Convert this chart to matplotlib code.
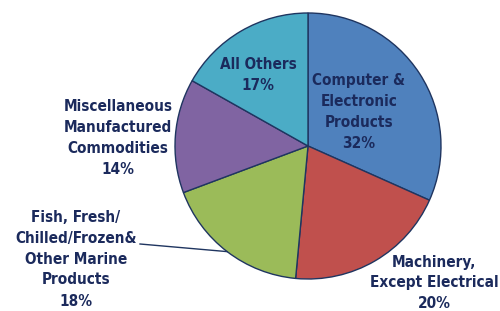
import matplotlib
matplotlib.use("Agg")
import matplotlib.pyplot as plt
import numpy as np

categories = ["Computer &\nElectronic\nProducts", "Machinery,\nExcept Electrical",
              "Fish, Fresh/\nChilled/Frozen&\nOther Marine\nProducts",
              "Miscellaneous\nManufactured\nCommodities", "All Others"]
values = [32, 20, 18, 14, 17]
pct_labels = ["32%", "20%", "18%", "14%", "17%"]
colors = ["#4F81BD", "#C0504D", "#9BBB59", "#8064A2", "#4BACC6"]

plt.rcParams['font.family'] = ["DejaVu Sans"]

W, H = 500, 311
fig = plt.figure(figsize=(5, 3.11), dpi=100)
ax = fig.add_axes([0, 0, 1, 1])
cx, cy, r = 308, H - 146, 133
wedges, _ = ax.pie(values, colors=colors, startangle=90, counterclock=False,
                   center=(cx, cy), radius=r,
                   wedgeprops=dict(edgecolor="#1F3560", linewidth=1.0))
ax.set_xlim(0, W)
ax.set_ylim(0, H)
ax.set_aspect('equal')
ax.axis('off')

tc = "#1B2A5C"
# label positions in pixel coords (x, y from top)
pos = [(359, 112), (434, 283), (76, 259), (118, 138), (258, 75)]
for cat, p, (x, y) in zip(categories, pct_labels, pos):
    ax.text(x, H - y, cat + "\n" + p, ha="center", va="center", color=tc,
            fontsize=11, fontweight="bold", fontstretch="condensed",
            linespacing=1.5)

# leader line for Fish slice
w = wedges[2]
mid = np.deg2rad((w.theta1 + w.theta2) / 2)
ex, ey = cx + r * np.cos(mid), cy + r * np.sin(mid)
ax.plot([140, ex], [H - 244, ey], color="#1F3560", linewidth=1.0)

fig.savefig("out.png", dpi=100)
